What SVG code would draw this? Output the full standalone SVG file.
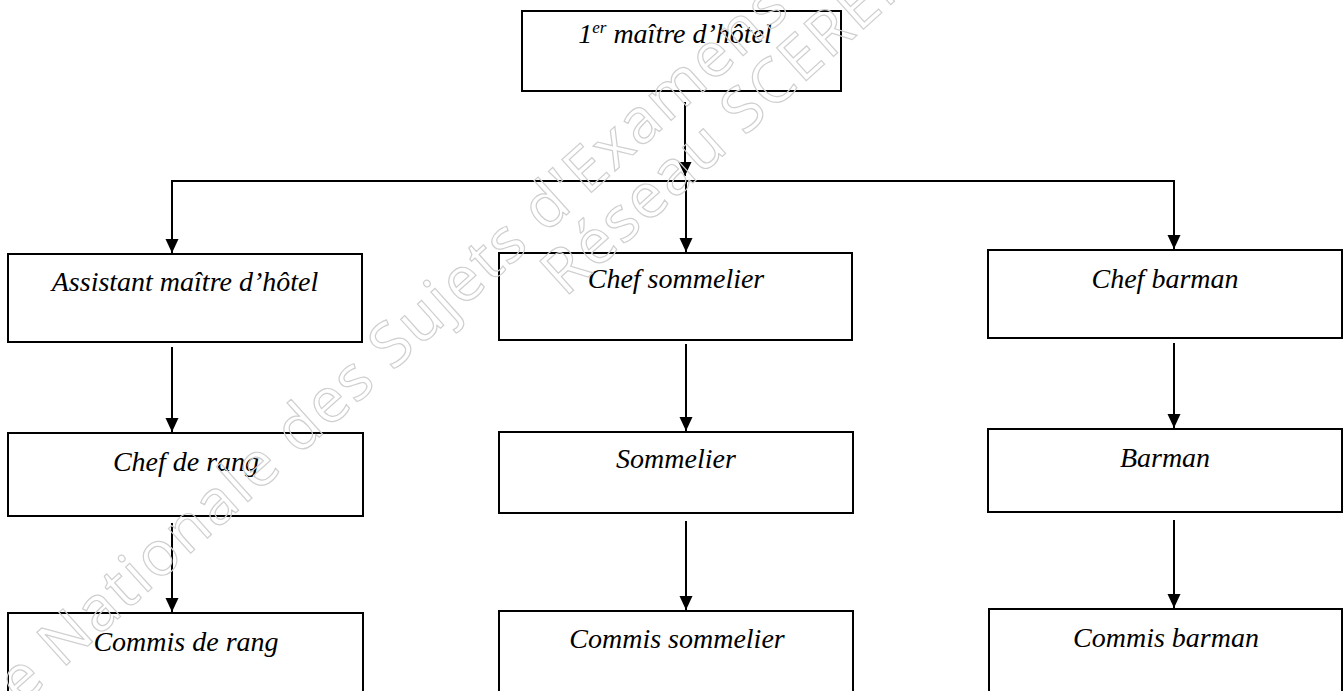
<svg xmlns="http://www.w3.org/2000/svg" width="1344" height="691" viewBox="0 0 1344 691">
  <style>
    .box { fill: #ffffff; stroke: #000000; stroke-width: 2; }
    .lbl { font-family: "Liberation Serif", "Times New Roman", serif; font-style: italic; font-size: 28px; fill: #000000; text-anchor: middle; }
    .con { fill: none; stroke: #000000; stroke-width: 2; }
    .wm { font-family: "Noto Sans", "DejaVu Sans", sans-serif; font-size: 62px; letter-spacing: 2px; fill: none; stroke: #cfcfcf; stroke-width: 1.2; }
  </style>
  <defs>
    <marker id="arr" markerUnits="userSpaceOnUse" markerWidth="16" markerHeight="16" viewBox="0 0 16 16" refX="14" refY="8" orient="auto">
      <path d="M0,1.5 L14,8 L0,14.5 z" fill="#000000"/>
    </marker>
  </defs>
  <rect x="0" y="0" width="1344" height="691" fill="#ffffff"/>

  <g id="connectors">
    <line class="con" x1="685" y1="102" x2="685" y2="176" marker-end="url(#arr)"/>
    <line class="con" x1="171" y1="181" x2="1175" y2="181"/>
    <line class="con" x1="172" y1="181" x2="172" y2="253" marker-end="url(#arr)"/>
    <line class="con" x1="686" y1="181" x2="686" y2="252" marker-end="url(#arr)"/>
    <line class="con" x1="1174" y1="181" x2="1174" y2="249" marker-end="url(#arr)"/>
    <line class="con" x1="172" y1="347" x2="172" y2="432" marker-end="url(#arr)"/>
    <line class="con" x1="172" y1="523" x2="172" y2="612" marker-end="url(#arr)"/>
    <line class="con" x1="686" y1="344" x2="686" y2="431" marker-end="url(#arr)"/>
    <line class="con" x1="686" y1="521" x2="686" y2="610" marker-end="url(#arr)"/>
    <line class="con" x1="1174" y1="343" x2="1174" y2="428" marker-end="url(#arr)"/>
    <line class="con" x1="1174" y1="520" x2="1174" y2="608" marker-end="url(#arr)"/>
  </g>

  <g id="premier-maitre-hotel">
    <rect class="box" x="522" y="11" width="319" height="80"/>
    <text class="lbl" x="675" y="43">1<tspan font-size="17" dy="-10">er</tspan><tspan dy="10"> maître d’hôtel</tspan></text>
  </g>

  <g id="assistant-maitre-hotel">
    <rect class="box" x="8" y="254" width="354" height="88"/>
    <text class="lbl" x="185" y="291">Assistant maître d’hôtel</text>
  </g>
  <g id="chef-de-rang">
    <rect class="box" x="8" y="433" width="355" height="83"/>
    <text class="lbl" x="186" y="471">Chef de rang</text>
  </g>
  <g id="commis-de-rang">
    <rect class="box" x="8" y="613" width="355" height="95"/>
    <text class="lbl" x="186" y="651">Commis de rang</text>
  </g>

  <g id="chef-sommelier">
    <rect class="box" x="499" y="253" width="353" height="87"/>
    <text class="lbl" x="676" y="288">Chef sommelier</text>
  </g>
  <g id="sommelier">
    <rect class="box" x="499" y="432" width="354" height="81"/>
    <text class="lbl" x="676" y="468">Sommelier</text>
  </g>
  <g id="commis-sommelier">
    <rect class="box" x="499" y="611" width="354" height="97"/>
    <text class="lbl" x="677" y="648">Commis sommelier</text>
  </g>

  <g id="chef-barman">
    <rect class="box" x="988" y="250" width="354" height="88"/>
    <text class="lbl" x="1165" y="288">Chef barman</text>
  </g>
  <g id="barman">
    <rect class="box" x="988" y="429" width="354" height="83"/>
    <text class="lbl" x="1165" y="467">Barman</text>
  </g>
  <g id="commis-barman">
    <rect class="box" x="989" y="609" width="353" height="99"/>
    <text class="lbl" x="1166" y="647">Commis barman</text>
  </g>

  <g id="watermark">
    <text class="wm" transform="translate(21,706) rotate(-42)">e Nationale des Sujets d'Examens de</text>
    <text class="wm" transform="translate(565,298) rotate(-42)">Réseau SCEREN</text>
  </g>
</svg>
